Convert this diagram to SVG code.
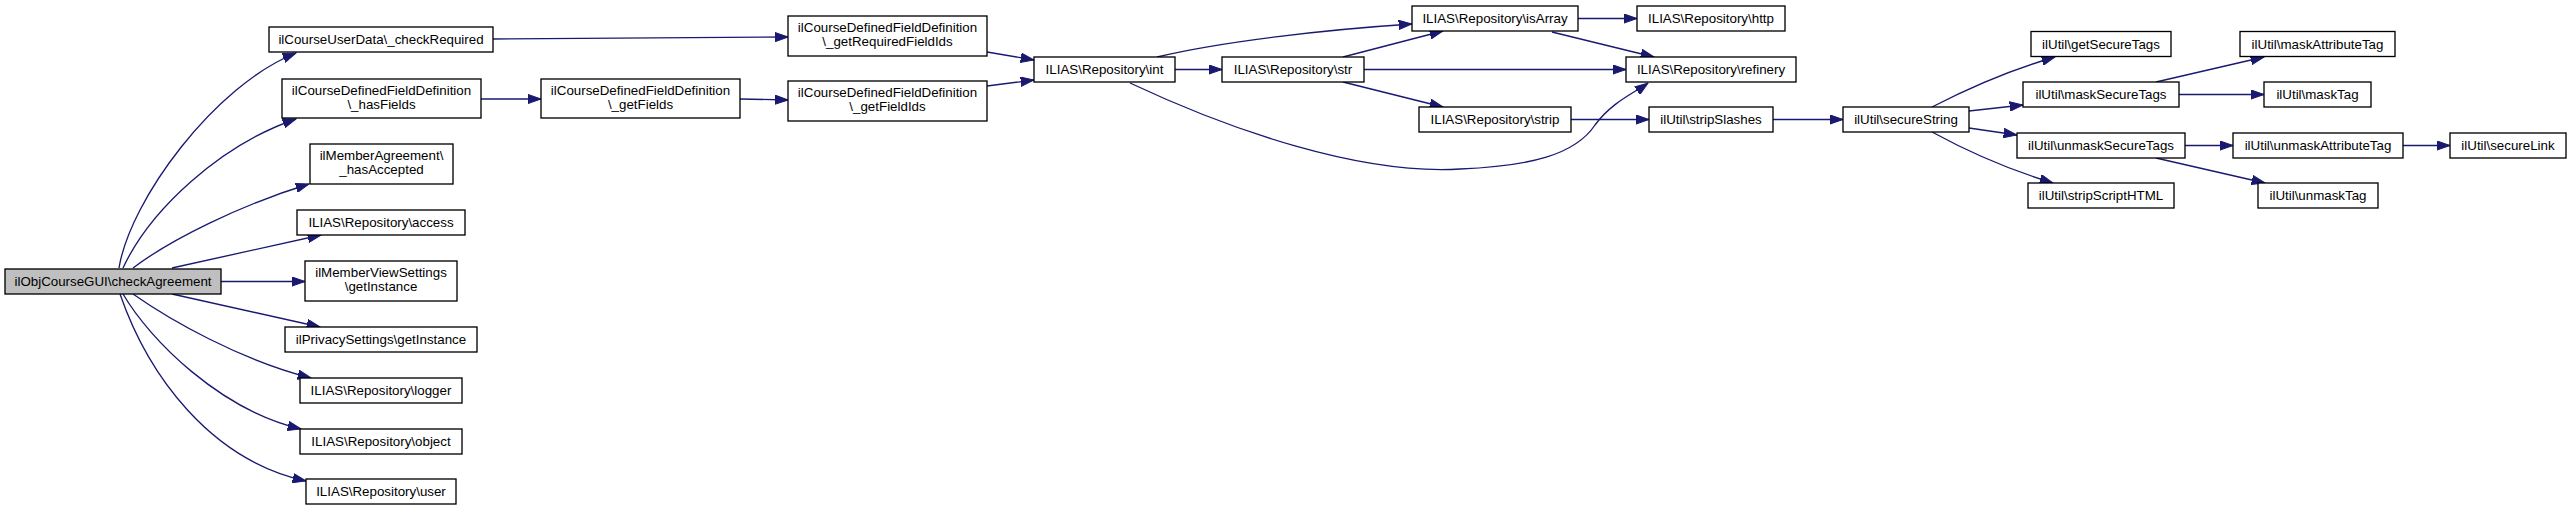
<svg xmlns="http://www.w3.org/2000/svg" width="2571" height="511" viewBox="0 0 2571 511">
<style>
.n rect{fill:#ffffff;stroke:#000000;stroke-width:1.33}
.n.root rect{fill:#bfbfbf}
.n text{font-family:"Liberation Sans",Arial,Helvetica,sans-serif;font-size:13.33px;text-anchor:middle;fill:#000000}
#edges path{fill:none;stroke:#191970;stroke-width:1.33;marker-end:url(#arr)}
</style>
<defs>
<marker id="arr" markerUnits="userSpaceOnUse" viewBox="0 0 14 10" refX="13.3" refY="5" markerWidth="14" markerHeight="10" orient="auto">
<path d="M0,0.3 L13.3,5 L0,9.7 z" fill="#191970" stroke="#191970" stroke-width="1"/>
</marker>
</defs>
<rect x="0" y="0" width="2571" height="511" fill="#ffffff"/>
<g id="edges">
<path d="M119,268 C130,200 215,85 296,53"/>
<path d="M123,268 C150,210 220,145 296,119"/>
<path d="M133,268 C170,240 240,205 309,184"/>
<path d="M172,268 L321,235"/>
<path d="M221,281.5 L305,281.5"/>
<path d="M172,294 L320,327"/>
<path d="M133,294 C170,320 240,360 311,378"/>
<path d="M123,294 C150,340 220,410 301,429"/>
<path d="M120,294 C148,375 210,460 306,481"/>
<path d="M493,39 L788,37"/>
<path d="M481,99 L541,99"/>
<path d="M740,99 L788,100"/>
<path d="M987,52 L1034,60"/>
<path d="M987,86 L1034,80"/>
<path d="M1157,57 C1220,42 1320,30 1412,24"/>
<path d="M1175,69.5 L1222,69.5"/>
<path d="M1130,83 C1230,130 1360,175 1460,169 C1530,166 1575,155 1595,125 C1612,102 1634,93 1648,83"/>
<path d="M1343,57 L1443,31"/>
<path d="M1364,69.5 L1626,69.5"/>
<path d="M1343,82 L1443,107"/>
<path d="M1578,18.5 L1637,18.5"/>
<path d="M1552,32 L1654,57"/>
<path d="M1571,119.5 L1649,119.5"/>
<path d="M1773,119.5 L1843,119.5"/>
<path d="M1932,107 C1965,90 2010,70 2055,57"/>
<path d="M1969,111 L2023,105"/>
<path d="M1969,128 L2017,135"/>
<path d="M1932,132 C1965,150 2010,170 2053,183"/>
<path d="M2156,82 L2264,57"/>
<path d="M2179,94.5 L2264,94.5"/>
<path d="M2185,145.5 L2233,145.5"/>
<path d="M2156,158 L2265,183"/>
<path d="M2403,145.5 L2450,145.5"/>
</g>
<g id="n0" class="n root"><rect x="5" y="269" width="216" height="25"/><text x="113" y="286">ilObjCourseGUI\checkAgreement</text></g>
<g id="n1" class="n"><rect x="269" y="27" width="224" height="25"/><text x="381" y="44">ilCourseUserData\_checkRequired</text></g>
<g id="n2" class="n"><rect x="282" y="79" width="199" height="39"/><text x="381.5" y="95">ilCourseDefinedFieldDefinition</text><text x="381.5" y="109">\_hasFields</text></g>
<g id="n3" class="n"><rect x="310" y="144" width="143" height="40"/><text x="381.5" y="160">ilMemberAgreement\</text><text x="381.5" y="174">_hasAccepted</text></g>
<g id="n4" class="n"><rect x="297" y="210" width="168" height="25"/><text x="381" y="227">ILIAS\Repository\access</text></g>
<g id="n5" class="n"><rect x="305" y="261" width="152" height="40"/><text x="381" y="277">ilMemberViewSettings</text><text x="381" y="291">\getInstance</text></g>
<g id="n6" class="n"><rect x="285" y="327" width="192" height="25"/><text x="381" y="344">ilPrivacySettings\getInstance</text></g>
<g id="n7" class="n"><rect x="300" y="378" width="162" height="25"/><text x="381" y="395">ILIAS\Repository\logger</text></g>
<g id="n8" class="n"><rect x="300" y="429" width="162" height="25"/><text x="381" y="446">ILIAS\Repository\object</text></g>
<g id="n9" class="n"><rect x="306" y="479" width="150" height="25"/><text x="381" y="496">ILIAS\Repository\user</text></g>
<g id="n10" class="n"><rect x="788" y="16" width="199" height="40"/><text x="887.5" y="32">ilCourseDefinedFieldDefinition</text><text x="887.5" y="46">\_getRequiredFieldIds</text></g>
<g id="n11" class="n"><rect x="541" y="79" width="199" height="39"/><text x="640.5" y="95">ilCourseDefinedFieldDefinition</text><text x="640.5" y="109">\_getFields</text></g>
<g id="n12" class="n"><rect x="788" y="81" width="199" height="40"/><text x="887.5" y="97">ilCourseDefinedFieldDefinition</text><text x="887.5" y="111">\_getFieldIds</text></g>
<g id="n13" class="n"><rect x="1034" y="57" width="141" height="25"/><text x="1104.5" y="74">ILIAS\Repository\int</text></g>
<g id="n14" class="n"><rect x="1222" y="57" width="142" height="25"/><text x="1293" y="74">ILIAS\Repository\str</text></g>
<g id="n15" class="n"><rect x="1412" y="6" width="166" height="25"/><text x="1495" y="23">ILIAS\Repository\isArray</text></g>
<g id="n16" class="n"><rect x="1419" y="107" width="152" height="25"/><text x="1495" y="124">ILIAS\Repository\strip</text></g>
<g id="n17" class="n"><rect x="1637" y="6" width="148" height="25"/><text x="1711" y="23">ILIAS\Repository\http</text></g>
<g id="n18" class="n"><rect x="1626" y="57" width="170" height="25"/><text x="1711" y="74">ILIAS\Repository\refinery</text></g>
<g id="n19" class="n"><rect x="1649" y="107" width="124" height="25"/><text x="1711" y="124">ilUtil\stripSlashes</text></g>
<g id="n20" class="n"><rect x="1843" y="107" width="126" height="25"/><text x="1906" y="124">ilUtil\secureString</text></g>
<g id="n21" class="n"><rect x="2031" y="31.5" width="140" height="25"/><text x="2101" y="48.5">ilUtil\getSecureTags</text></g>
<g id="n22" class="n"><rect x="2023" y="82" width="156" height="25"/><text x="2101" y="99">ilUtil\maskSecureTags</text></g>
<g id="n23" class="n"><rect x="2017" y="133" width="168" height="25"/><text x="2101" y="150">ilUtil\unmaskSecureTags</text></g>
<g id="n24" class="n"><rect x="2028" y="183" width="146" height="25"/><text x="2101" y="200">ilUtil\stripScriptHTML</text></g>
<g id="n25" class="n"><rect x="2240" y="31.5" width="155" height="25"/><text x="2317.5" y="48.5">ilUtil\maskAttributeTag</text></g>
<g id="n26" class="n"><rect x="2264" y="82" width="107" height="25"/><text x="2317.5" y="99">ilUtil\maskTag</text></g>
<g id="n27" class="n"><rect x="2233" y="133" width="170" height="25"/><text x="2318" y="150">ilUtil\unmaskAttributeTag</text></g>
<g id="n28" class="n"><rect x="2450" y="133" width="116" height="25"/><text x="2508" y="150">ilUtil\secureLink</text></g>
<g id="n29" class="n"><rect x="2258" y="183" width="120" height="25"/><text x="2318" y="200">ilUtil\unmaskTag</text></g>
</svg>
